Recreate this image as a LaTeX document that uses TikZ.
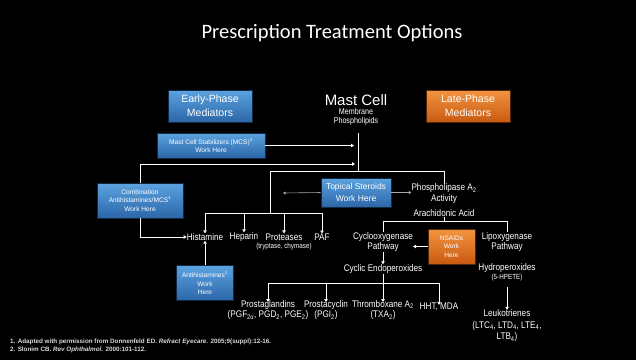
\documentclass[tikz,border=0pt]{standalone}
\usepackage{fontspec}
\setmainfont{Liberation Sans}
\newfontfamily\titlefont{Carlito}
\newfontfamily\narrowfont[FakeStretch=0.85]{Liberation Sans}
\usetikzlibrary{arrows.meta}

\definecolor{boxblue}{HTML}{5CA3E0}
\definecolor{boxbluedk}{HTML}{2B66A8}
\definecolor{boxorange}{HTML}{F39440}
\definecolor{boxorangedk}{HTML}{C95A10}

\tikzset{
  txt/.style={text=white, inner sep=0pt, align=center, font=\narrowfont\fontsize{9.6}{10.5}\selectfont},
  small/.style={text=white, inner sep=0pt, align=center, font=\narrowfont\fontsize{7.4}{8}\selectfont},
  bluebox/.style={draw=black!60!boxbluedk, line width=0.6pt, top color=boxblue, bottom color=boxbluedk,
    text=white, align=center, inner sep=1pt, font=\fontsize{6.6}{8.5}\selectfont},
  orangebox/.style={bluebox, draw=black!60!boxorangedk, top color=boxorange, bottom color=boxorangedk},
  phasebox/.style={font=\fontsize{10.5}{14}\selectfont, minimum width=84pt, minimum height=32pt},
  link/.style={draw=white, line width=0.8pt},
  arr/.style={link, -{Triangle[length=3pt,width=3.4pt]}},
  dimarr/.style={draw=gray!70, line width=0.6pt, -{Triangle[length=2.5pt,width=3pt]}}
}

\begin{document}
\begin{tikzpicture}[x=1pt,y=-1pt]

	\fill[black] (0,0) rectangle (636,360);
	\useasboundingbox (0,0) rectangle (636,360);

	\node[text=white, font=\titlefont\fontsize{20.5}{24}\selectfont] (title) at (332,33) {Prescription Treatment Options};

	% top row
	\node[bluebox, phasebox] (early) at (210,106) {Early-Phase\\Mediators};
	\node[text=white, inner sep=0pt, font=\fontsize{15}{17}\selectfont] (mast) at (356,100) {Mast Cell};
	\node[small, font=\narrowfont\fontsize{8.4}{9}\selectfont] (memb) at (356,117) {Membrane\\Phospholipids};
	\node[orangebox, phasebox] (late) at (468,106) {Late-Phase\\Mediators};

	% treatment boxes
	\node[bluebox, minimum width=108pt, minimum height=25pt] (mcs) at (211,145.5) {Mast Cell Stabilizers (MCS)\textsuperscript{1}\\Work Here};
	\node[bluebox, minimum width=86pt, minimum height=35pt] (combo) at (140,200.5) {Combination\\Antihistamines/MCS\textsuperscript{1}\\Work Here};
	\node[bluebox, minimum width=70pt, minimum height=29pt, font=\fontsize{8.5}{12.5}\selectfont] (topical) at (356,192.5) {Topical Steroids\\Work Here};
	\node[bluebox, minimum width=57pt, minimum height=35pt] (antih) at (205,283) {Antihistamines\textsuperscript{1}\\Work\\Here};
	\node[orangebox, minimum width=47pt, minimum height=35pt] (nsaid) at (451.5,246.5) {NSAIDs\\Work\\Here};

	% mediators
	\node[txt] (hist) at (205,237) {Histamine};
	\node[txt] (hep) at (244,237) {Heparin};
	\node[txt] (prot) at (284,237) {Proteases};
	\node[txt] (paf) at (322,237) {PAF};
	\node[small] (tryp) at (284,246.5) {(tryptase, chymase)};

	\node[txt] (phos) at (444,193.5) {Phospholipase A\textsubscript{2}\\Activity};
	\node[txt] (arach) at (444,213) {Arachidonic Acid};
	\node[txt] (cox) at (383,242) {Cyclooxygenase\\Pathway};
	\node[txt] (lox) at (507,242) {Lipoxygenase\\Pathway};
	\node[txt] (cyc) at (383,269) {Cyclic Endoperoxides};
	\node[txt] (hydro) at (507,268) {Hydroperoxides};
	\node[small] (hpete) at (507,278) {(5-HPETE)};

	\node[txt] (pg) at (268,310) {Prostaglandins\\(PGF\textsubscript{2α}, PGD\textsubscript{2}, PGE\textsubscript{2})};
	\node[txt] (pgi) at (326,310) {Prostacyclin\\(PGI\textsubscript{2})};
	\node[txt] (txa) at (383,310) {Thromboxane A\textsubscript{2}\\(TXA\textsubscript{2})};
	\node[txt] (hht) at (439,307) {HHT, MDA};
	\node[txt, font=\narrowfont\fontsize{9.6}{11.5}\selectfont] (leuk) at (507,326) {Leukotrienes\\(LTC\textsubscript{4}, LTD\textsubscript{4}, LTE\textsubscript{4},\\LTB\textsubscript{4})};

	% references
	\node[small, font=\bfseries\fontsize{6.3}{8}\selectfont, align=left, anchor=north west, text=white!85!black] (refs) at (10,338.5)
	  {1. Adapted with permission from Donnenfeld ED. \textit{Refract Eyecare}. 2005;9(suppl):12-16.\\
	   2. Slonim CB. \textit{Rev Ophthalmol}. 2000:101-112.};

	% junctions
	\coordinate (mtop) at (358,133);
	\coordinate (mbot) at (358,171);
	\coordinate (mcsend) at (354,145.5);
	\coordinate (comboend) at (355,164);
	\coordinate (hleft) at (270,171);
	\coordinate (hbar) at (270,213);
	\coordinate (phtop) at (444,171);
	\coordinate (tsleft) at (283,193);
	\coordinate (abar) at (444,221);
	\coordinate (cbar) at (383,283);
	\coordinate (nsend) at (413,246.5);
	\coordinate (hpt) at (507,287);

	\draw[link] (mtop) -- (mbot);
	\draw[arr] (mcs.east) -- (mcsend);
	\draw[arr] (combo.north) |- (comboend);
	\draw[link] (hleft) -- (phtop) -- (phos.north);
	\draw[link] (hleft) -- (hbar);
	\draw[link] (hist |- hbar) -- (paf |- hbar);
	\foreach \n in {hist,hep,prot,paf}
		\draw[arr] (\n |- hbar) -- (\n.north);
	\draw[arr] (combo.south) |- (hist.west);
	\draw[arr] (antih.north) -- (hist.south);

	\draw[dimarr] (topical.west) -- (tsleft);
	\draw[dimarr] (topical.east) -- (topical.east -| phos.west);

	\draw[link] (arach.south) -- (abar);
	\draw[link] (cox.north |- abar) -- (lox.north |- abar);
	\draw[link] (cox.north |- abar) -- (cox.north);
	\draw[link] (lox.north |- abar) -- (lox.north);
	\draw[arr] (nsaid.west) -- (nsend);
	\draw[arr] (cox.south) -- (cyc.north);

	\draw[link] (cyc.south) -- (cbar);
	\draw[link] (pg.north |- cbar) -- (hht.north |- cbar);
	\foreach \n in {pg,pgi,txa,hht}
		\draw[arr] (\n.north |- cbar) -- ([yshift=-2pt]\n.north);
	\draw[arr] (hpt) -- (leuk.north);

\end{tikzpicture}
\end{document}
